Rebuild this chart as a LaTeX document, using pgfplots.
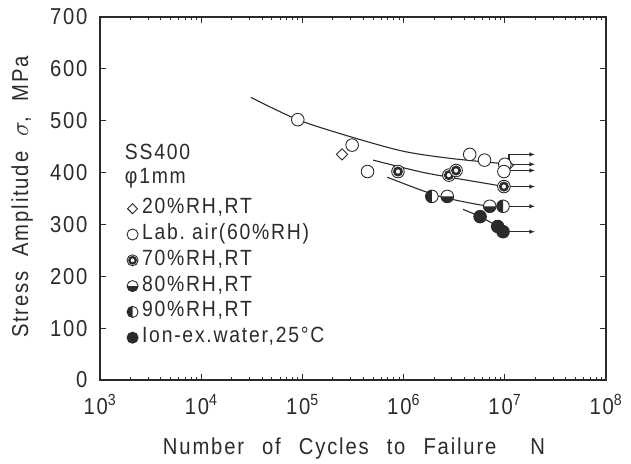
\documentclass[border=0pt]{standalone}
\usepackage{fontspec}
\setmainfont{Liberation Sans}[FakeStretch=0.88, LetterSpace=8]
\usepackage{pgfplots}
\pgfplotsset{compat=1.18}
\usetikzlibrary{arrows.meta}
\definecolor{ink}{HTML}{2B2B2B}

\pgfdeclareplotmark{ring}{%
  \pgfsetfillcolor{white}%
  \pgfpathcircle{\pgfpointorigin}{\pgfplotmarksize}\pgfusepathqfillstroke
  \pgfsetfillcolor{ink}%
  \pgfpathcircle{\pgfpointorigin}{0.80\pgfplotmarksize}%
  \pgfpathcircle{\pgfpointorigin}{0.36\pgfplotmarksize}%
  \pgfseteorule\pgfusepathqfill}
\pgfdeclareplotmark{hbot}{%
  \pgfsetfillcolor{white}%
  \pgfpathcircle{\pgfpointorigin}{\pgfplotmarksize}\pgfusepathqfill
  \pgfsetfillcolor{ink}%
  \pgfpathmoveto{\pgfqpoint{\pgfplotmarksize}{0pt}}%
  \pgfpatharc{0}{-180}{\pgfplotmarksize}\pgfpathclose\pgfusepathqfill
  \pgfpathcircle{\pgfpointorigin}{\pgfplotmarksize}\pgfusepathqstroke}
\pgfdeclareplotmark{hleft}{%
  \pgfsetfillcolor{white}%
  \pgfpathcircle{\pgfpointorigin}{\pgfplotmarksize}\pgfusepathqfill
  \pgfsetfillcolor{ink}%
  \pgfpathmoveto{\pgfqpoint{0pt}{\pgfplotmarksize}}%
  \pgfpatharc{90}{270}{\pgfplotmarksize}\pgfpathclose\pgfusepathqfill
  \pgfpathcircle{\pgfpointorigin}{\pgfplotmarksize}\pgfusepathqstroke}

\begin{document}
\begin{tikzpicture}
\begin{axis}[
  scale only axis, width=506pt, height=363pt,
  xmode=log, xmin=1e3, xmax=1e8, ymin=0, ymax=700,
  xtick={1e3,1e4,1e5,1e6,1e7,1e8},
  xticklabels={10\textsuperscript{3},10\textsuperscript{4},10\textsuperscript{5},10\textsuperscript{6},10\textsuperscript{7},10\textsuperscript{8}},
  ytick={0,100,...,700},
  /pgf/number format/assume math mode=true,
  tick align=inside,
  major tick length=6pt, minor tick length=3.5pt,
  tick style={ink, line width=0.9pt},
  axis line style={ink, line width=1.4pt},
  ticklabel style={font=\fontsize{23}{26}\selectfont, text=ink},
  yticklabel style={xshift=-9pt},
  xticklabel style={yshift=-11pt},
  xlabel={Number\hspace{18pt}of\hspace{18pt}Cycles\hspace{18pt}to\hspace{18pt}Failure\hspace{34pt}N},
  ylabel={Stress\ \ Amplitude\ \ $\sigma$,\ \ MPa},
  xlabel style={at={(axis description cs:0.502,-0.19)}, anchor=center},
  ylabel style={at={(axis description cs:-0.154,0.504)}, anchor=center},
  label style={font=\fontsize{23}{26}\selectfont, text=ink},
  legend cell align=left,
  legend image code/.code={\draw[#1, every mark/.append style={scale=0.88}] plot coordinates {(0pt,0pt)};},
  legend style={at={(rel axis cs:0.053,0.50)}, anchor=north west, draw=none, fill=none,
    inner sep=0pt, row sep=5.8pt, column sep=4pt,
    font=\fontsize{22}{24}\selectfont, text=ink,
    nodes={inner sep=0pt, text height=15pt, text depth=5pt}},
]
\coordinate (bl) at (rel axis cs:0,0);
% S-N curves
\addplot[ink, line width=1.1pt, smooth, forget plot] coordinates {(3.1e4,545)(9e4,502)(3e5,469)(1e6,441)(3e6,427)(1e7,417)};
\addplot[ink, line width=1.1pt, smooth, forget plot] coordinates {(5e5,424)(1.5e6,401)(3.5e6,388)(1e7,373)};
\addplot[ink, line width=1.1pt, smooth, forget plot] coordinates {(6.9e5,391)(1.45e6,367)(2.5e6,352)(6e6,337)(1e7,334)};
\addplot[ink, line width=1.1pt, smooth, forget plot] coordinates {(3.87e6,329)(5.7e6,315)(8.5e6,296)(9.6e6,286)};
% run-out arrows
\addplot[ink, line width=1.1pt, -{Latex[length=6pt,width=4.5pt]}, forget plot] coordinates {(1.1e7,416)(1.1e7,435)(2e7,435)};
\addplot[ink, line width=1.1pt, -{Latex[length=6pt,width=4.5pt]}, forget plot] coordinates {(1e7,416)(2e7,416)};
\addplot[ink, line width=1.1pt, -{Latex[length=6pt,width=4.5pt]}, forget plot] coordinates {(1e7,404)(2e7,404)};
\addplot[ink, line width=1.1pt, -{Latex[length=6pt,width=4.5pt]}, forget plot] coordinates {(1e7,373)(2e7,373)};
\addplot[ink, line width=1.1pt, -{Latex[length=6pt,width=4.5pt]}, forget plot] coordinates {(1e7,335)(2e7,335)};
\addplot[ink, line width=1.1pt, -{Latex[length=6pt,width=4.5pt]}, forget plot] coordinates {(9.6e6,286)(2e7,286)};
% data
\addplot[only marks, mark=square*, mark size=4pt, mark options={rotate=45, draw=ink, fill=white, line width=0.9pt}]
  coordinates {(2.46e5,435)(1.07e7,414)};
\addlegendentry{20\%RH,RT}
\addplot[only marks, mark=*, mark size=6.3pt, mark options={draw=ink, fill=white, line width=0.9pt}]
  coordinates {(9e4,502)(3.1e5,453)(4.4e5,402)(4.5e6,435)(6.3e6,424)(1e7,416)(9.8e6,402)};
\addlegendentry{Lab.\ air(60\%RH)}
\addplot[only marks, mark=ring, mark size=6.3pt, mark options={draw=ink, line width=0.9pt}]
  coordinates {(8.8e5,402)(2.8e6,395)(3.3e6,404)(9.8e6,373)};
\addlegendentry{70\%RH,RT}
\addplot[only marks, mark=hbot, mark size=6.3pt, mark options={draw=ink, line width=0.9pt}]
  coordinates {(2.7e6,354)(7.1e6,335)};
\addlegendentry{80\%RH,RT}
\addplot[only marks, mark=hleft, mark size=6.3pt, mark options={draw=ink, line width=0.9pt}]
  coordinates {(1.9e6,354)(9.6e6,335)};
\addlegendentry{90\%RH,RT}
\addplot[only marks, mark=*, mark size=6.3pt, mark options={draw=ink, fill=ink, line width=0.9pt}]
  coordinates {(5.7e6,315)(8.5e6,296)(9.6e6,286)};
\addlegendentry{Ion-ex.water,25°C}
\node[anchor=west, font=\fontsize{22}{24}\selectfont, text=ink, inner sep=0pt] at (rel axis cs:0.049,0.628) {SS400};
\node[anchor=west, font=\fontsize{22}{24}\selectfont, text=ink, inner sep=0pt] at (rel axis cs:0.049,0.556) {φ1mm};
\end{axis}
\pgfresetboundingbox
\path (bl) ++(-100pt,-83pt) rectangle ++(631pt,463pt);
\end{tikzpicture}
\end{document}
